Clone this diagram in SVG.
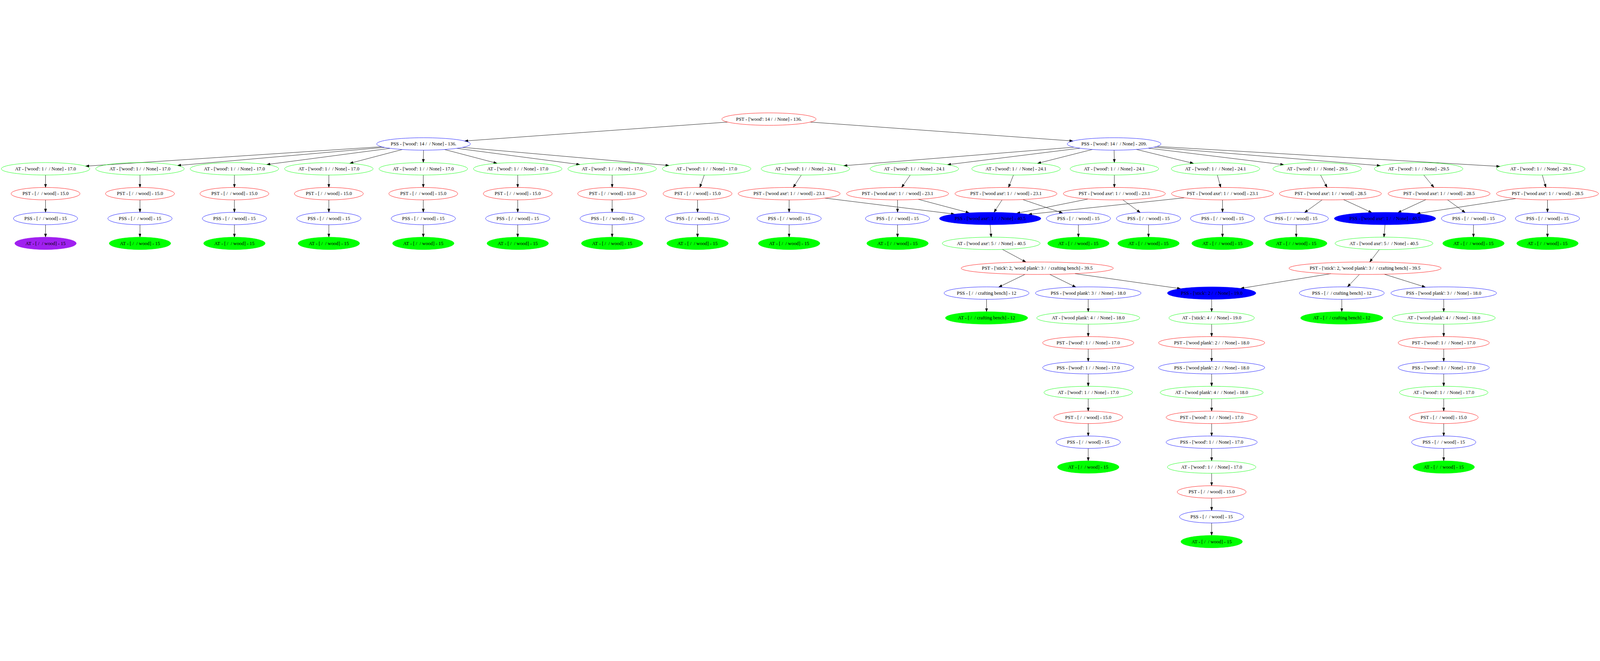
<svg xmlns="http://www.w3.org/2000/svg" width="6184" height="1691" viewBox="0 0 6184 1691">
<style>
svg:root{width:100vw;height:100vh}
text{font-family:"Liberation Serif","Times New Roman",serif;font-size:18.67px;fill:#000;text-anchor:middle;white-space:pre}
ellipse{stroke-width:1.33}
.r{stroke:#ff0000;fill:none}
.b{stroke:#0000ff;fill:none}
.g{stroke:#00ff00;fill:none}
.gf{stroke:#00ff00;fill:#00ff00}
.bf{stroke:#0000ff;fill:#0000ff}
.pf{stroke:#a020f0;fill:#a020f0}
#edges path{stroke:#000;stroke-width:1.33;fill:none;marker-end:url(#arr)}
</style>
<defs>
<marker id="arr" markerUnits="userSpaceOnUse" markerWidth="14" markerHeight="10" refX="13.3" refY="4.67" orient="auto"><path d="M0,0 L13.3,4.67 L0,9.33 z" fill="#000" stroke="#000" stroke-width="1"/></marker>
</defs>
<rect width="6184" height="1691" fill="#fff"/>
<g id="edges">
<path d="M2812,40.5 L1796,113.6"/>
<path d="M3132,40.5 L4147,113.6"/>
<path d="M1475,135.7 L331,210.8"/>
<path d="M1486,138.2 L686,208.3"/>
<path d="M1508,141.9 L1031,204.6"/>
<path d="M1555,146.4 L1352,199.8"/>
<path d="M1637,149 L1636,197"/>
<path d="M1718,146.4 L1921,199.8"/>
<path d="M1765,141.9 L2241,204.6"/>
<path d="M1788,138.2 L2586,208.3"/>
<path d="M176,245 L176,293"/><path d="M176,341 L176,389"/><path d="M176,437 L176,485"/>
<path d="M541,245 L541,293"/><path d="M541,341 L541,389"/><path d="M541,437 L541,485"/>
<path d="M906,245 L906,293"/><path d="M906,341 L906,389"/><path d="M906,437 L906,485"/>
<path d="M1271,245 L1271,293"/><path d="M1271,341 L1271,389"/><path d="M1271,437 L1271,485"/>
<path d="M1636,245 L1636,293"/><path d="M1636,341 L1636,389"/><path d="M1636,437 L1636,485"/>
<path d="M2001,245 L2001,293"/><path d="M2001,341 L2001,389"/><path d="M2001,437 L2001,485"/>
<path d="M2366,245 L2366,293"/><path d="M2366,341 L2366,389"/><path d="M2366,437 L2366,485"/>
<path d="M2722,245 L2705,293"/><path d="M2696,341 L2696,389"/><path d="M2696,437 L2696,485"/>
<path d="M4151,137.5 L3261,209.1"/>
<path d="M4174,141.4 L3662,205.1"/>
<path d="M4222,146.3 L4010,200"/>
<path d="M4306,149 L4307,197"/>
<path d="M4392,146.1 L4613,200.2"/>
<path d="M4439,141.3 L4962,205.2"/>
<path d="M4460,137.6 L5335,208.9"/>
<path d="M4472,134.6 L5797,211.8"/>
<path d="M3097,245 L3066,293"/>
<path d="M3518,245 L3485,293"/>
<path d="M3917,245 L3898,293"/>
<path d="M4307,245 L4307,293"/>
<path d="M4705,245 L4718,293"/>
<path d="M5104,245 L5129,293"/>
<path d="M5503,245 L5542,293"/>
<path d="M5961,245 L5975,293"/>
<path d="M3050,341 L3050,389"/>
<path d="M3188,334 L3689,396"/>
<path d="M3469,341 L3469,389"/>
<path d="M3550,339 L3746,391"/>
<path d="M3873,341 L3842,389"/>
<path d="M3954,340 L4107,392"/>
<path d="M4204,338 L3929,393"/>
<path d="M4340,341 L4407,390"/>
<path d="M4577,333 L3975,397"/>
<path d="M4725,341 L4725,389"/>
<path d="M5110,341 L5042,390"/>
<path d="M5193,340 L5302,390"/>
<path d="M5511,340 L5403,390"/>
<path d="M5595,341 L5663,390"/>
<path d="M5858,336 L5476,394"/>
<path d="M5981,341 L5981,389"/>
<path d="M3050,437 L3050,485"/>
<path d="M3469,437 L3469,485"/>
<path d="M4168,437 L4168,485"/>
<path d="M4439,437 L4439,485"/>
<path d="M4725,437 L4725,485"/>
<path d="M5010,437 L5010,485"/>
<path d="M5695,437 L5695,485"/>
<path d="M5981,437 L5981,485"/>
<path d="M3827,437 L3831,485"/>
<path d="M5353,437 L5349,485"/>
<path d="M3874,532 L3965,581"/>
<path d="M5331,533 L5294,581"/>
<path d="M3961,629 L3860,678"/>
<path d="M4058,629 L4158,678"/>
<path d="M4155,626 L4563,684"/>
<path d="M5144,626 L4795,683"/>
<path d="M5254,629 L5208,677"/>
<path d="M5350,628 L5509,678"/>
<path d="M3813,725 L3813,773"/>
<path d="M4206,725 L4206,773"/>
<path d="M4683,725 L4683,773"/>
<path d="M5186,725 L5186,773"/>
<path d="M5580,725 L5580,773"/>
<path d="M4206,821 L4206,869"/><path d="M4206,917 L4206,965"/><path d="M4206,1013 L4206,1061"/><path d="M4206,1109 L4206,1157"/><path d="M4206,1205 L4206,1253"/><path d="M4206,1301 L4206,1349"/>
<path d="M5580,821 L5580,869"/><path d="M5580,917 L5580,965"/><path d="M5580,1013 L5580,1061"/><path d="M5580,1109 L5580,1157"/><path d="M5580,1205 L5580,1253"/><path d="M5580,1301 L5580,1349"/>
<path d="M4683,821 L4683,869"/><path d="M4683,917 L4683,965"/><path d="M4683,1013 L4683,1061"/><path d="M4683,1109 L4683,1157"/><path d="M4683,1205 L4683,1253"/><path d="M4683,1301 L4683,1349"/><path d="M4683,1397 L4683,1445"/><path d="M4683,1493 L4683,1541"/><path d="M4683,1589 L4683,1637"/>
</g>
<g id="root"><ellipse class="r" cx="2972" cy="29" rx="182" ry="24"/><text x="2972" y="35">PST - ['wood': 14 /  / None] - 136.</text></g>
<g id="lpss"><ellipse class="b" cx="1637" cy="125" rx="181" ry="24"/><text x="1637" y="131">PSS - ['wood': 14 /  / None] - 136.</text></g>
<g id="rpss"><ellipse class="b" cx="4306" cy="125" rx="181" ry="24"/><text x="4306" y="131">PSS - ['wood': 14 /  / None] - 209.</text></g>
<g id="l0_at"><ellipse class="g" cx="176" cy="221" rx="171" ry="24"/><text x="176" y="227">AT - ['wood': 1 /  / None] - 17.0</text></g>
<g id="l0_pst"><ellipse class="r" cx="176" cy="317" rx="133" ry="24"/><text x="176" y="323">PST - [ /  / wood] - 15.0</text></g>
<g id="l0_pss"><ellipse class="b" cx="176" cy="413" rx="124" ry="24"/><text x="176" y="419">PSS - [ /  / wood] - 15</text></g>
<g id="l0_end"><ellipse class="pf" cx="176" cy="509" rx="119" ry="24"/><text x="176" y="515">AT - [ /  / wood] - 15</text></g>
<g id="l1_at"><ellipse class="g" cx="541" cy="221" rx="171" ry="24"/><text x="541" y="227">AT - ['wood': 1 /  / None] - 17.0</text></g>
<g id="l1_pst"><ellipse class="r" cx="541" cy="317" rx="133" ry="24"/><text x="541" y="323">PST - [ /  / wood] - 15.0</text></g>
<g id="l1_pss"><ellipse class="b" cx="541" cy="413" rx="124" ry="24"/><text x="541" y="419">PSS - [ /  / wood] - 15</text></g>
<g id="l1_end"><ellipse class="gf" cx="541" cy="509" rx="119" ry="24"/><text x="541" y="515">AT - [ /  / wood] - 15</text></g>
<g id="l2_at"><ellipse class="g" cx="906" cy="221" rx="171" ry="24"/><text x="906" y="227">AT - ['wood': 1 /  / None] - 17.0</text></g>
<g id="l2_pst"><ellipse class="r" cx="906" cy="317" rx="133" ry="24"/><text x="906" y="323">PST - [ /  / wood] - 15.0</text></g>
<g id="l2_pss"><ellipse class="b" cx="906" cy="413" rx="124" ry="24"/><text x="906" y="419">PSS - [ /  / wood] - 15</text></g>
<g id="l2_end"><ellipse class="gf" cx="906" cy="509" rx="119" ry="24"/><text x="906" y="515">AT - [ /  / wood] - 15</text></g>
<g id="l3_at"><ellipse class="g" cx="1271" cy="221" rx="171" ry="24"/><text x="1271" y="227">AT - ['wood': 1 /  / None] - 17.0</text></g>
<g id="l3_pst"><ellipse class="r" cx="1271" cy="317" rx="133" ry="24"/><text x="1271" y="323">PST - [ /  / wood] - 15.0</text></g>
<g id="l3_pss"><ellipse class="b" cx="1271" cy="413" rx="124" ry="24"/><text x="1271" y="419">PSS - [ /  / wood] - 15</text></g>
<g id="l3_end"><ellipse class="gf" cx="1271" cy="509" rx="119" ry="24"/><text x="1271" y="515">AT - [ /  / wood] - 15</text></g>
<g id="l4_at"><ellipse class="g" cx="1636" cy="221" rx="171" ry="24"/><text x="1636" y="227">AT - ['wood': 1 /  / None] - 17.0</text></g>
<g id="l4_pst"><ellipse class="r" cx="1636" cy="317" rx="133" ry="24"/><text x="1636" y="323">PST - [ /  / wood] - 15.0</text></g>
<g id="l4_pss"><ellipse class="b" cx="1636" cy="413" rx="124" ry="24"/><text x="1636" y="419">PSS - [ /  / wood] - 15</text></g>
<g id="l4_end"><ellipse class="gf" cx="1636" cy="509" rx="119" ry="24"/><text x="1636" y="515">AT - [ /  / wood] - 15</text></g>
<g id="l5_at"><ellipse class="g" cx="2001" cy="221" rx="171" ry="24"/><text x="2001" y="227">AT - ['wood': 1 /  / None] - 17.0</text></g>
<g id="l5_pst"><ellipse class="r" cx="2001" cy="317" rx="133" ry="24"/><text x="2001" y="323">PST - [ /  / wood] - 15.0</text></g>
<g id="l5_pss"><ellipse class="b" cx="2001" cy="413" rx="124" ry="24"/><text x="2001" y="419">PSS - [ /  / wood] - 15</text></g>
<g id="l5_end"><ellipse class="gf" cx="2001" cy="509" rx="119" ry="24"/><text x="2001" y="515">AT - [ /  / wood] - 15</text></g>
<g id="l6_at"><ellipse class="g" cx="2366" cy="221" rx="171" ry="24"/><text x="2366" y="227">AT - ['wood': 1 /  / None] - 17.0</text></g>
<g id="l6_pst"><ellipse class="r" cx="2366" cy="317" rx="133" ry="24"/><text x="2366" y="323">PST - [ /  / wood] - 15.0</text></g>
<g id="l6_pss"><ellipse class="b" cx="2366" cy="413" rx="124" ry="24"/><text x="2366" y="419">PSS - [ /  / wood] - 15</text></g>
<g id="l6_end"><ellipse class="gf" cx="2366" cy="509" rx="119" ry="24"/><text x="2366" y="515">AT - [ /  / wood] - 15</text></g>
<g id="l7_at"><ellipse class="g" cx="2731" cy="221" rx="171" ry="24"/><text x="2731" y="227">AT - ['wood': 1 /  / None] - 17.0</text></g>
<g id="l7_pst"><ellipse class="r" cx="2696" cy="317" rx="133" ry="24"/><text x="2696" y="323">PST - [ /  / wood] - 15.0</text></g>
<g id="l7_pss"><ellipse class="b" cx="2696" cy="413" rx="124" ry="24"/><text x="2696" y="419">PSS - [ /  / wood] - 15</text></g>
<g id="l7_end"><ellipse class="gf" cx="2696" cy="509" rx="119" ry="24"/><text x="2696" y="515">AT - [ /  / wood] - 15</text></g>
<g id="r1_at"><ellipse class="g" cx="3113" cy="221" rx="171" ry="24"/><text x="3113" y="227">AT - ['wood': 1 /  / None] - 24.1</text></g>
<g id="r2_at"><ellipse class="g" cx="3534" cy="221" rx="171" ry="24"/><text x="3534" y="227">AT - ['wood': 1 /  / None] - 24.1</text></g>
<g id="r3_at"><ellipse class="g" cx="3927" cy="221" rx="171" ry="24"/><text x="3927" y="227">AT - ['wood': 1 /  / None] - 24.1</text></g>
<g id="r4_at"><ellipse class="g" cx="4307" cy="221" rx="171" ry="24"/><text x="4307" y="227">AT - ['wood': 1 /  / None] - 24.1</text></g>
<g id="r5_at"><ellipse class="g" cx="4698" cy="221" rx="171" ry="24"/><text x="4698" y="227">AT - ['wood': 1 /  / None] - 24.1</text></g>
<g id="r6_at"><ellipse class="g" cx="5091" cy="221" rx="171" ry="24"/><text x="5091" y="227">AT - ['wood': 1 /  / None] - 29.5</text></g>
<g id="r7_at"><ellipse class="g" cx="5483" cy="221" rx="171" ry="24"/><text x="5483" y="227">AT - ['wood': 1 /  / None] - 29.5</text></g>
<g id="r8_at"><ellipse class="g" cx="5955" cy="221" rx="171" ry="24"/><text x="5955" y="227">AT - ['wood': 1 /  / None] - 29.5</text></g>
<g id="r1_pst"><ellipse class="r" cx="3050" cy="317" rx="197" ry="24"/><text x="3050" y="323">PST - ['wood axe': 1 /  / wood] - 23.1</text></g>
<g id="r2_pst"><ellipse class="r" cx="3469" cy="317" rx="197" ry="24"/><text x="3469" y="323">PST - ['wood axe': 1 /  / wood] - 23.1</text></g>
<g id="r3_pst"><ellipse class="r" cx="3888" cy="317" rx="197" ry="24"/><text x="3888" y="323">PST - ['wood axe': 1 /  / wood] - 23.1</text></g>
<g id="r4_pst"><ellipse class="r" cx="4307" cy="317" rx="197" ry="24"/><text x="4307" y="323">PST - ['wood axe': 1 /  / wood] - 23.1</text></g>
<g id="r5_pst"><ellipse class="r" cx="4725" cy="317" rx="197" ry="24"/><text x="4725" y="323">PST - ['wood axe': 1 /  / wood] - 23.1</text></g>
<g id="r6_pst"><ellipse class="r" cx="5142" cy="317" rx="197" ry="24"/><text x="5142" y="323">PST - ['wood axe': 1 /  / wood] - 28.5</text></g>
<g id="r7_pst"><ellipse class="r" cx="5562" cy="317" rx="197" ry="24"/><text x="5562" y="323">PST - ['wood axe': 1 /  / wood] - 28.5</text></g>
<g id="r8_pst"><ellipse class="r" cx="5981" cy="317" rx="197" ry="24"/><text x="5981" y="323">PST - ['wood axe': 1 /  / wood] - 28.5</text></g>
<g id="r1_pss"><ellipse class="b" cx="3050" cy="413" rx="124" ry="24"/><text x="3050" y="419">PSS - [ /  / wood] - 15</text></g>
<g id="r2_pss"><ellipse class="b" cx="3469" cy="413" rx="124" ry="24"/><text x="3469" y="419">PSS - [ /  / wood] - 15</text></g>
<g id="axe1_pss"><ellipse class="bf" cx="3827" cy="413" rx="196" ry="24"/><text x="3827" y="419">PSS - ['wood axe': 1 /  / None] - 40.5</text></g>
<g id="r3_pss"><ellipse class="b" cx="4168" cy="413" rx="124" ry="24"/><text x="4168" y="419">PSS - [ /  / wood] - 15</text></g>
<g id="r4_pss"><ellipse class="b" cx="4439" cy="413" rx="124" ry="24"/><text x="4439" y="419">PSS - [ /  / wood] - 15</text></g>
<g id="r5_pss"><ellipse class="b" cx="4725" cy="413" rx="124" ry="24"/><text x="4725" y="419">PSS - [ /  / wood] - 15</text></g>
<g id="r6_pss"><ellipse class="b" cx="5010" cy="413" rx="124" ry="24"/><text x="5010" y="419">PSS - [ /  / wood] - 15</text></g>
<g id="axe2_pss"><ellipse class="bf" cx="5353" cy="413" rx="196" ry="24"/><text x="5353" y="419">PSS - ['wood axe': 1 /  / None] - 40.5</text></g>
<g id="r7_pss"><ellipse class="b" cx="5695" cy="413" rx="124" ry="24"/><text x="5695" y="419">PSS - [ /  / wood] - 15</text></g>
<g id="r8_pss"><ellipse class="b" cx="5981" cy="413" rx="124" ry="24"/><text x="5981" y="419">PSS - [ /  / wood] - 15</text></g>
<g id="r1_end"><ellipse class="gf" cx="3050" cy="509" rx="119" ry="24"/><text x="3050" y="515">AT - [ /  / wood] - 15</text></g>
<g id="r2_end"><ellipse class="gf" cx="3469" cy="509" rx="119" ry="24"/><text x="3469" y="515">AT - [ /  / wood] - 15</text></g>
<g id="axe1_at"><ellipse class="g" cx="3831" cy="509" rx="189" ry="24"/><text x="3831" y="515">AT - ['wood axe': 5 /  / None] - 40.5</text></g>
<g id="r3_end"><ellipse class="gf" cx="4168" cy="509" rx="119" ry="24"/><text x="4168" y="515">AT - [ /  / wood] - 15</text></g>
<g id="r4_end"><ellipse class="gf" cx="4439" cy="509" rx="119" ry="24"/><text x="4439" y="515">AT - [ /  / wood] - 15</text></g>
<g id="r5_end"><ellipse class="gf" cx="4725" cy="509" rx="119" ry="24"/><text x="4725" y="515">AT - [ /  / wood] - 15</text></g>
<g id="r6_end"><ellipse class="gf" cx="5010" cy="509" rx="119" ry="24"/><text x="5010" y="515">AT - [ /  / wood] - 15</text></g>
<g id="axe2_at"><ellipse class="g" cx="5349" cy="509" rx="189" ry="24"/><text x="5349" y="515">AT - ['wood axe': 5 /  / None] - 40.5</text></g>
<g id="r7_end"><ellipse class="gf" cx="5695" cy="509" rx="119" ry="24"/><text x="5695" y="515">AT - [ /  / wood] - 15</text></g>
<g id="r8_end"><ellipse class="gf" cx="5981" cy="509" rx="119" ry="24"/><text x="5981" y="515">AT - [ /  / wood] - 15</text></g>
<g id="st1_pst"><ellipse class="r" cx="4009" cy="605" rx="294" ry="24"/><text x="4009" y="611">PST - ['stick': 2, 'wood plank': 3 /  / crafting bench] - 39.5</text></g>
<g id="st2_pst"><ellipse class="r" cx="5276" cy="605" rx="294" ry="24"/><text x="5276" y="611">PST - ['stick': 2, 'wood plank': 3 /  / crafting bench] - 39.5</text></g>
<g id="cb1_pss"><ellipse class="b" cx="3813" cy="701" rx="164" ry="24"/><text x="3813" y="707">PSS - [ /  / crafting bench] - 12</text></g>
<g id="wp1_pss"><ellipse class="b" cx="4206" cy="701" rx="204" ry="24"/><text x="4206" y="707">PSS - ['wood plank': 3 /  / None] - 18.0</text></g>
<g id="stick_pss"><ellipse class="bf" cx="4683" cy="701" rx="171" ry="24"/><text x="4683" y="707">PSS - ['stick': 2 /  / None] - 19.0</text></g>
<g id="cb2_pss"><ellipse class="b" cx="5186" cy="701" rx="164" ry="24"/><text x="5186" y="707">PSS - [ /  / crafting bench] - 12</text></g>
<g id="wp2_pss"><ellipse class="b" cx="5580" cy="701" rx="204" ry="24"/><text x="5580" y="707">PSS - ['wood plank': 3 /  / None] - 18.0</text></g>
<g id="cb1_at"><ellipse class="gf" cx="3813" cy="797" rx="159" ry="24"/><text x="3813" y="803">AT - [ /  / crafting bench] - 12</text></g>
<g id="wp1_at"><ellipse class="g" cx="4206" cy="797" rx="199" ry="24"/><text x="4206" y="803">AT - ['wood plank': 4 /  / None] - 18.0</text></g>
<g id="stick_at"><ellipse class="g" cx="4683" cy="797" rx="165" ry="24"/><text x="4683" y="803">AT - ['stick': 4 /  / None] - 19.0</text></g>
<g id="cb2_at"><ellipse class="gf" cx="5186" cy="797" rx="159" ry="24"/><text x="5186" y="803">AT - [ /  / crafting bench] - 12</text></g>
<g id="wp2_at"><ellipse class="g" cx="5580" cy="797" rx="199" ry="24"/><text x="5580" y="803">AT - ['wood plank': 4 /  / None] - 18.0</text></g>
<g id="c1_pst_w"><ellipse class="r" cx="4206" cy="893" rx="176" ry="24"/><text x="4206" y="899">PST - ['wood': 1 /  / None] - 17.0</text></g>
<g id="c1_pss_w"><ellipse class="b" cx="4206" cy="989" rx="176" ry="24"/><text x="4206" y="995">PSS - ['wood': 1 /  / None] - 17.0</text></g>
<g id="c1_at_w"><ellipse class="g" cx="4206" cy="1085" rx="171" ry="24"/><text x="4206" y="1091">AT - ['wood': 1 /  / None] - 17.0</text></g>
<g id="c1_pst"><ellipse class="r" cx="4206" cy="1181" rx="133" ry="24"/><text x="4206" y="1187">PST - [ /  / wood] - 15.0</text></g>
<g id="c1_pss"><ellipse class="b" cx="4206" cy="1277" rx="124" ry="24"/><text x="4206" y="1283">PSS - [ /  / wood] - 15</text></g>
<g id="c1_end"><ellipse class="gf" cx="4206" cy="1373" rx="119" ry="24"/><text x="4206" y="1379">AT - [ /  / wood] - 15</text></g>
<g id="c2_pst_wp"><ellipse class="r" cx="4683" cy="893" rx="205" ry="24"/><text x="4683" y="899">PST - ['wood plank': 2 /  / None] - 18.0</text></g>
<g id="c2_pss_wp"><ellipse class="b" cx="4683" cy="989" rx="205" ry="24"/><text x="4683" y="995">PSS - ['wood plank': 2 /  / None] - 18.0</text></g>
<g id="c2_at_wp"><ellipse class="g" cx="4683" cy="1085" rx="199" ry="24"/><text x="4683" y="1091">AT - ['wood plank': 4 /  / None] - 18.0</text></g>
<g id="c2_pst_w"><ellipse class="r" cx="4683" cy="1181" rx="176" ry="24"/><text x="4683" y="1187">PST - ['wood': 1 /  / None] - 17.0</text></g>
<g id="c2_pss_w"><ellipse class="b" cx="4683" cy="1277" rx="176" ry="24"/><text x="4683" y="1283">PSS - ['wood': 1 /  / None] - 17.0</text></g>
<g id="c2_at_w"><ellipse class="g" cx="4683" cy="1373" rx="171" ry="24"/><text x="4683" y="1379">AT - ['wood': 1 /  / None] - 17.0</text></g>
<g id="c2_pst"><ellipse class="r" cx="4683" cy="1469" rx="133" ry="24"/><text x="4683" y="1475">PST - [ /  / wood] - 15.0</text></g>
<g id="c2_pss"><ellipse class="b" cx="4683" cy="1565" rx="124" ry="24"/><text x="4683" y="1571">PSS - [ /  / wood] - 15</text></g>
<g id="c2_end"><ellipse class="gf" cx="4683" cy="1661" rx="119" ry="24"/><text x="4683" y="1667">AT - [ /  / wood] - 15</text></g>
<g id="c3_pst_w"><ellipse class="r" cx="5580" cy="893" rx="176" ry="24"/><text x="5580" y="899">PST - ['wood': 1 /  / None] - 17.0</text></g>
<g id="c3_pss_w"><ellipse class="b" cx="5580" cy="989" rx="176" ry="24"/><text x="5580" y="995">PSS - ['wood': 1 /  / None] - 17.0</text></g>
<g id="c3_at_w"><ellipse class="g" cx="5580" cy="1085" rx="171" ry="24"/><text x="5580" y="1091">AT - ['wood': 1 /  / None] - 17.0</text></g>
<g id="c3_pst"><ellipse class="r" cx="5580" cy="1181" rx="133" ry="24"/><text x="5580" y="1187">PST - [ /  / wood] - 15.0</text></g>
<g id="c3_pss"><ellipse class="b" cx="5580" cy="1277" rx="124" ry="24"/><text x="5580" y="1283">PSS - [ /  / wood] - 15</text></g>
<g id="c3_end"><ellipse class="gf" cx="5580" cy="1373" rx="119" ry="24"/><text x="5580" y="1379">AT - [ /  / wood] - 15</text></g>
</svg>
